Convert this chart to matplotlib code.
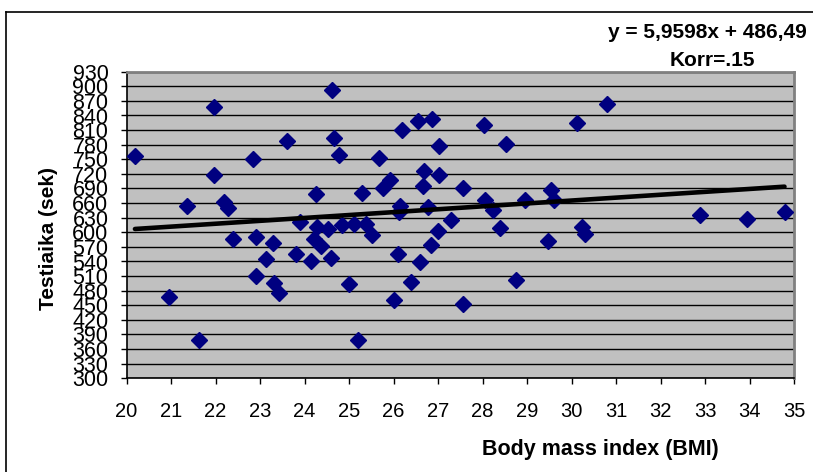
import matplotlib
matplotlib.use("Agg")
import matplotlib.pyplot as plt
import numpy as np
from matplotlib.lines import Line2D

plt.rcParams['font.family'] = ['Liberation Sans', 'DejaVu Sans']

bmi = [20.19, 20.96, 21.37, 21.62, 21.96, 21.97, 22.19, 22.27, 22.40, 22.85,
       22.91, 22.90, 23.28, 23.13, 23.31, 23.43, 23.60, 23.81, 23.90, 24.14,
       24.25, 24.29, 24.21, 24.37, 24.53, 24.60, 24.62, 24.67, 24.77, 24.83,
       24.99, 25.12, 25.19, 25.30, 25.38, 25.52, 25.67, 25.76, 25.91, 26.00,
       26.10, 26.11, 26.15, 26.19, 26.39, 26.55, 26.59, 26.67, 26.69, 26.78,
       26.83, 26.87, 26.99, 27.02, 27.02, 27.29, 27.55, 27.55, 28.02, 28.06,
       28.24, 28.39, 28.52, 28.74, 28.96, 29.47, 29.53, 29.61, 30.11, 30.24,
       30.30, 30.79, 32.88, 33.94, 34.78]
testiaika = [757, 467, 655, 379, 857, 717, 662, 650, 586, 750,
             590, 511, 578, 545, 495, 475, 788, 555, 622, 542,
             679, 611, 586, 572, 607, 548, 892, 794, 759, 616,
             494, 617, 379, 681, 617, 595, 752, 692, 707, 461,
             555, 642, 654, 810, 497, 829, 539, 696, 726, 653,
             574, 832, 603, 777, 718, 625, 692, 453, 820, 666,
             646, 609, 781, 502, 666, 583, 687, 667, 825, 611,
             596, 863, 635, 627, 641]

slope = 5.9598
intercept = 486.49
x_ticks = list(range(20, 36))
y_ticks = list(range(300, 931, 30))

fig = plt.figure(figsize=(8.13, 4.72), dpi=100)
W, H = 813, 472

# outer chart frame (left and top lines)
fig.add_artist(Line2D([5.7 / W, 5.7 / W], [0, 1 - 11.5 / H], color='black', lw=1.2,
                      transform=fig.transFigure))
fig.add_artist(Line2D([5.7 / W, 1], [1 - 11.5 / H, 1 - 11.5 / H], color='black', lw=1.2,
                      transform=fig.transFigure))

left, right = 126.5 / W, 794.3 / W
top, bottom = 1 - 71.7 / H, 1 - 378.3 / H
ax = fig.add_axes([left, bottom, right - left, top - bottom])
ax.set_facecolor('#C0C0C0')
ax.set_xlim(20, 35)
ax.set_ylim(300, 930)
ax.set_xticks(x_ticks)
ax.set_yticks(y_ticks)
ax.yaxis.grid(True, color='black', lw=1.0)
ax.set_axisbelow(True)
ax.tick_params(axis='both', direction='out', length=4.3, width=1, color='black')
ax.tick_params(axis='x', pad=13, labelsize=14.5)
ax.tick_params(axis='y', pad=8.7, labelsize=15.5)
for s in ['left', 'bottom']:
    ax.spines[s].set_color('black')
    ax.spines[s].set_linewidth(1.2)
for s in ['top', 'right']:
    ax.spines[s].set_color('#808080')
    ax.spines[s].set_linewidth(2.0)

ax.plot(bmi, testiaika, linestyle='none', marker='D', markersize=7.8,
        color='#000080', zorder=3)
xs = np.array([min(bmi), max(bmi)])
ax.plot(xs, slope * xs + intercept, color='black', lw=3.3, zorder=4,
        solid_capstyle='round')

fig.text(600 / W, 1 - 450 / H, 'Body mass index (BMI)', ha='center', va='center',
         fontsize=15.5, fontweight='bold')
fig.text(48 / W, 1 - 238 / H, 'Testiaika (sek)', ha='center', va='center',
         rotation=90, fontsize=15, fontweight='bold')
fig.text(608 / W, 1 - 33 / H, 'y = 5,9598x + 486,49', ha='left', va='center',
         fontsize=15, fontweight='bold')
fig.text(712 / W, 1 - 60 / H, 'Korr=.15', ha='center', va='center',
         fontsize=15, fontweight='bold')

fig.savefig('out.png', dpi=100)
